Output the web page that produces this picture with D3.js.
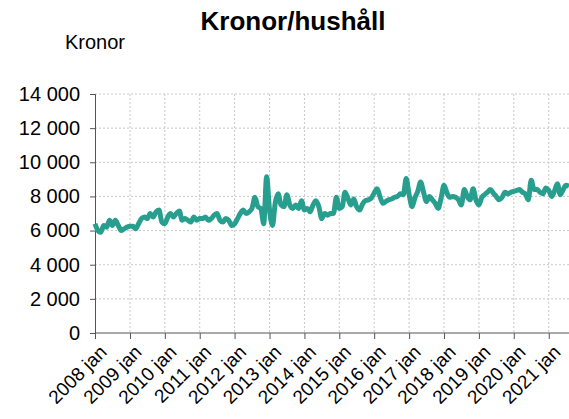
<!DOCTYPE html>
<html>
<head>
<meta charset="utf-8">
<script src="https://cdn.jsdelivr.net/npm/d3@7"></script>
<style>
  body { margin: 0; background: #fff; }
  svg text { font-family: "Liberation Sans", Arial, sans-serif; fill: #000; }
  .grid line { stroke: #c8c8c8; stroke-dasharray: 2,2; }
  .axis path, .axis line { stroke: #555; }
</style>
</head>
<body>
<div id="chart"></div>
<script>
"use strict"

let width = 569,
    height = 419;

// monthly values, 2008 jan onwards
const startYear = 2008;
const values = [
    6400, 6000, 5900, 6300, 6200, 6600, 6300, 6600, 6300, 6000, 6100, 6200,
    6250, 6250, 6100, 6400, 6700, 6800, 6700, 7000, 6800, 7100, 7200, 6500,
    6400, 6800, 7000, 6800, 7000, 7150, 6600, 6700, 6600, 6500, 6800, 6600,
    6700, 6700, 6800, 6600, 6700, 6900, 7000, 6600, 6500, 6700, 6600, 6300,
    6400, 6700, 7000, 7200, 7000, 7100, 7300, 7950, 7400, 7300, 6400, 9150,
    7200, 6300, 7600, 8150, 7500, 7400, 8100, 7500, 7300, 7500, 7300, 7750,
    7200, 7300, 7100, 7500, 7750, 7400, 6700, 7000, 6900, 7000, 7000, 7950,
    7300, 7400, 8250, 7900, 7500, 7850, 7400, 7200, 7550, 7750, 7800, 7900,
    8200, 8450, 8000, 7600, 7700, 7800, 7850, 7950, 8000, 8150, 8100, 9050,
    8100, 7400, 7900, 8300, 8840, 8250, 7700, 8000, 7800, 7600, 7300, 7900,
    8650, 8200, 7950, 8000, 7950, 7800, 7500, 8400, 8000, 7800, 8450, 7800,
    7500, 7950, 8100, 8250, 8400, 8200, 8000, 7800, 7950, 8250, 8150, 8250,
    8300, 8350, 8400, 8250, 8150, 7800, 8950, 8400, 8400, 8250, 8150, 8500,
    8350, 8000, 8300, 8750, 8100, 8400, 8650, 8600
];
const tickYears = d3.range(2008, 2022);
const yTicks = [0, 2000, 4000, 6000, 8000, 10000, 12000, 14000];

const months = values.map((v, i) => new Date(startYear, i, 1));

const margin = {left: 95, right: 0, top: 94, bottom: 86};

const svg = d3.select("#chart").append("svg")
    .attr("width", width)
    .attr("height", height);

const scaleX = d3.scaleTime()
    .domain([new Date(2008, 0, 1), new Date(2021, 7, 1)])
    .range([margin.left, width - margin.right]);

const scaleY = d3.scaleLinear()
    .domain([0, 14000])
    .range([height - margin.bottom, margin.top]);

const fmt = v => d3.format(",")(v).replace(/,/g, " ");

// grid
svg.append("g")
    .attr("class", "grid")
    .selectAll("line.h")
    .data(yTicks.slice(1))
    .join("line")
    .attr("x1", margin.left)
    .attr("x2", width)
    .attr("y1", d => scaleY(d))
    .attr("y2", d => scaleY(d));

svg.append("g")
    .attr("class", "grid")
    .selectAll("line.v")
    .data(tickYears.slice(1))
    .join("line")
    .attr("x1", d => scaleX(new Date(d, 0, 1)))
    .attr("x2", d => scaleX(new Date(d, 0, 1)))
    .attr("y1", margin.top)
    .attr("y2", scaleY(0));

// axes
const xAxis = d3.axisBottom(scaleX)
    .tickValues(tickYears.map(y => new Date(y, 0, 1)))
    .tickFormat(d => d.getFullYear() + " jan")
    .tickSizeOuter(0)
    .tickSize(6);

const gx = svg.append("g")
    .attr("class", "axis")
    .attr("transform", "translate(0," + scaleY(0) + ")")
    .call(xAxis);
gx.select(".domain").attr("d", "M" + margin.left + ",0H" + width);
gx.selectAll("text")
    .style("font-size", "19px")
    .attr("text-anchor", "end")
    .attr("dx", 0)
    .attr("dy", 0)
    .attr("transform", "translate(6,14) rotate(-45)");

const yAxis = d3.axisLeft(scaleY)
    .tickValues(yTicks)
    .tickFormat(fmt)
    .tickSizeOuter(0)
    .tickSize(5)
    .tickPadding(10);

svg.append("g")
    .attr("class", "axis")
    .attr("transform", "translate(" + margin.left + ",0)")
    .call(yAxis)
    .selectAll("text")
    .style("font-size", "20px");

// line
const line = d3.line()
    .x((d, i) => scaleX(months[i]))
    .y(d => scaleY(d))
    .curve(d3.curveMonotoneX);

svg.append("path")
    .datum(values)
    .attr("fill", "none")
    .attr("stroke", "#289f8e")
    .attr("stroke-width", 5)
    .attr("stroke-linejoin", "round")
    .attr("d", line);

// titles
svg.append("text")
    .attr("x", 293)
    .attr("y", 30)
    .attr("text-anchor", "middle")
    .style("font-size", "26px")
    .style("font-weight", "bold")
    .text("Kronor/hushåll");

svg.append("text")
    .attr("x", 65)
    .attr("y", 49)
    .style("font-size", "20px")
    .text("Kronor");
</script>
</body>
</html>
